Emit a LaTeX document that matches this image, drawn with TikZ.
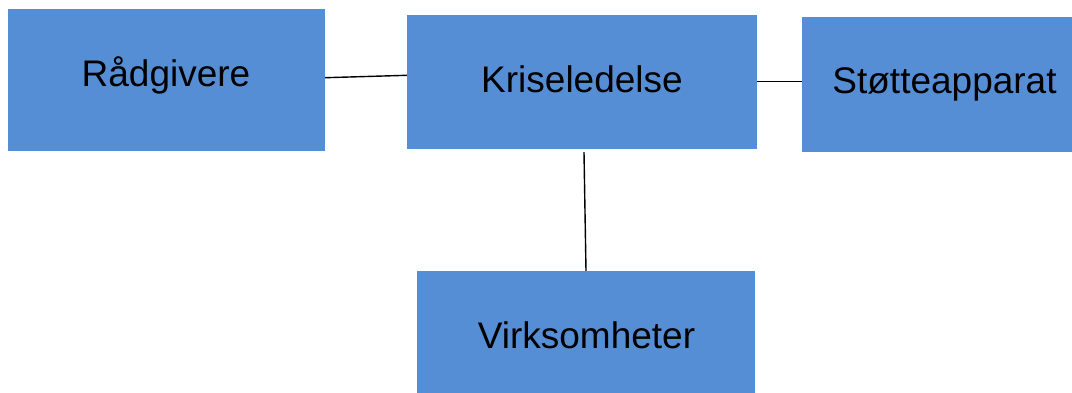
\documentclass[tikz,border=0pt]{standalone}
\usepackage{fontspec}
\setmainfont{Liberation Sans}
\definecolor{boxblue}{RGB}{85,142,213}
\begin{document}
\begin{tikzpicture}[x=1pt,y=-1pt,
  box/.style={rectangle,fill=boxblue,draw=none,inner sep=0pt},
  lbl/.style={inner sep=0pt,anchor=base,font=\fontsize{37}{44}\selectfont},
  conn/.style={draw=black,line width=1.4pt}]
\useasboundingbox (0,0) rectangle (1072,392);
\node[box,minimum width=317pt,minimum height=142pt] (r) at (166.5,80) {};
\node[box,minimum width=350pt,minimum height=134pt] (k) at (582,82) {};
\node[box,minimum width=273pt,minimum height=135pt] (s) at (938.5,84.5) {};
\node[box,minimum width=338pt,minimum height=124pt] (v) at (586,333) {};
\node[lbl] (rt) at (166,86) {Rådgivere};
\node[lbl] (kt) at (582,92) {Kriseledelse};
\node[lbl] (st) at (944.5,93) {Støtteapparat};
\node[lbl] (vt) at (586.5,348) {Virksomheter};
\draw[conn] ([yshift=2.3pt]r.east) -- ([yshift=6.7pt]k.west);
\draw[conn] ([yshift=0.5pt]k.east) -- ([yshift=3pt]s.west);
\draw[conn] ([xshift=2pt,yshift=-3pt]k.south) -- (v.north);
\end{tikzpicture}
\end{document}
